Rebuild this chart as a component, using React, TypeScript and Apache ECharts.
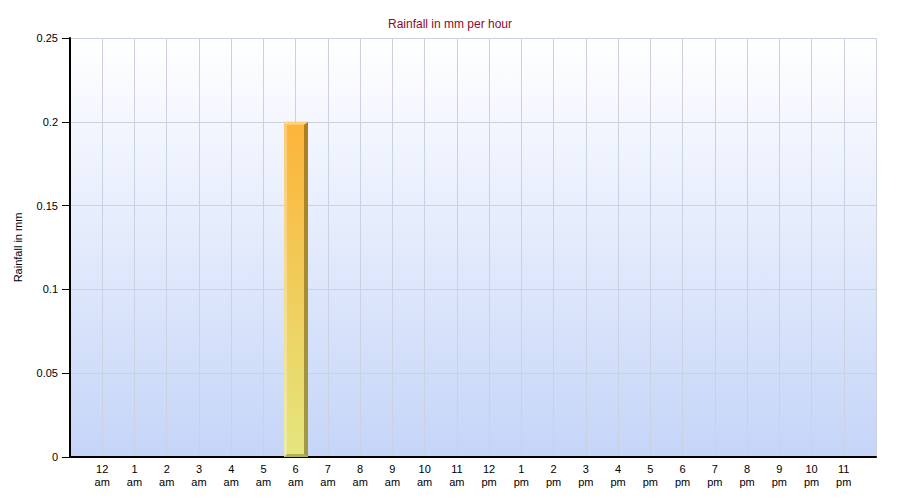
import React, { useEffect, useRef } from "react";
import * as echarts from "echarts";

const title = "Rainfall in mm per hour";
const yAxisName = "Rainfall in mm";
const hourLabels = [
  "12\nam", "1\nam", "2\nam", "3\nam", "4\nam", "5\nam", "6\nam", "7\nam",
  "8\nam", "9\nam", "10\nam", "11\nam", "12\npm", "1\npm", "2\npm", "3\npm",
  "4\npm", "5\npm", "6\npm", "7\npm", "8\npm", "9\npm", "10\npm", "11\npm",
];
const rainfall = [0, 0, 0, 0, 0, 0, 0.2, 0, 0, 0, 0, 0, 0, 0, 0, 0, 0, 0, 0, 0, 0, 0, 0, 0];
const yTicks = { min: 0, max: 0.25, interval: 0.05 };

const FONT = "Liberation Sans, Arial, sans-serif";

export default function App() {
  const ref = useRef<HTMLDivElement>(null);
  useEffect(() => {
    if (!ref.current) return;
    const chart = echarts.init(ref.current, null, { renderer: "svg" });
    const data = rainfall
      .map((v, i) => [i + 1, v])
      .filter((d) => d[1] > 0);
    chart.setOption({
      animation: false,
      backgroundColor: "#ffffff",
      textStyle: { fontFamily: FONT },
      title: {
        text: title,
        left: "center",
        top: 13,
        textStyle: { color: "#8b0a2a", fontSize: 12, fontWeight: "normal", fontFamily: FONT },
      },
      grid: {
        left: 70,
        right: 24,
        top: 38,
        bottom: 43,
        show: true,
        borderWidth: 0,
        backgroundColor: new echarts.graphic.LinearGradient(0, 0, 0, 1, [
          { offset: 0, color: "#ffffff" },
          { offset: 1, color: "#c5d5f8" },
        ]),
      },
      xAxis: {
        type: "value",
        min: 0,
        max: hourLabels.length + 1,
        interval: 1,
        axisLine: { show: true, lineStyle: { color: "#000000", width: 2 } },
        axisTick: { show: false },
        splitLine: { show: true, lineStyle: { color: "#cbd1e0", width: 1 } },
        axisLabel: {
          color: "#000000",
          fontSize: 11,
          lineHeight: 13,
          margin: 5,
          fontFamily: FONT,
          formatter: (v: number) => {
            const i = Math.round(v) - 1;
            return i >= 0 && i < hourLabels.length ? hourLabels[i] : "";
          },
        },
      },
      yAxis: {
        type: "value",
        min: yTicks.min,
        max: yTicks.max,
        interval: yTicks.interval,
        name: yAxisName,
        nameLocation: "middle",
        nameGap: 47,
        nameTextStyle: { color: "#000000", fontSize: 11, fontFamily: FONT },
        axisLine: { show: true, lineStyle: { color: "#000000", width: 2 } },
        axisTick: { show: true, length: 8, lineStyle: { color: "#000000", width: 1 } },
        splitLine: { show: true, lineStyle: { color: "#cbd1e0", width: 1 } },
        axisLabel: { color: "#000000", fontSize: 11, margin: 12, fontFamily: FONT },
      },
      series: [
        {
          type: "custom",
          data,
          encode: { x: 0, y: 1 },
          renderItem: (params: any, api: any) => {
            const x = api.value(0);
            const y = api.value(1);
            const top = api.coord([x, y]);
            const base = api.coord([x, 0]);
            const w = 24;
            const left = Math.round(top[0]) - 12;
            const right = left + w;
            const t = top[1];
            const b = base[1];
            return {
              type: "group",
              children: [
                {
                  type: "rect",
                  shape: { x: left, y: t, width: w, height: b - t },
                  style: {
                    fill: new echarts.graphic.LinearGradient(0, 0, 0, 1, [
                      { offset: 0, color: "#fdb43a" },
                      { offset: 1, color: "#e4e67e" },
                    ]),
                  },
                },
                {
                  type: "rect",
                  shape: { x: left, y: t, width: 3, height: b - t },
                  style: { fill: "rgba(255,255,255,0.3)" },
                },
                {
                  type: "polygon",
                  shape: {
                    points: [
                      [right - 4, t + 3],
                      [right, t],
                      [right, b],
                      [right - 4, b - 3],
                    ],
                  },
                  style: { fill: "rgba(80,60,0,0.45)" },
                },
                {
                  type: "polygon",
                  shape: {
                    points: [
                      [left, t],
                      [right, t],
                      [right - 4, t + 3],
                      [left + 3, t + 3],
                    ],
                  },
                  style: { fill: "rgba(255,235,180,0.55)" },
                },
                {
                  type: "polygon",
                  shape: {
                    points: [
                      [left + 3, b - 3],
                      [right - 4, b - 3],
                      [right, b],
                      [left, b],
                    ],
                  },
                  style: { fill: "rgba(80,80,0,0.35)" },
                },
              ],
            };
          },
        },
      ],
    });
    return () => chart.dispose();
  }, []);
  return <div ref={ref} style={{ width: 900, height: 500, marginLeft: -8, marginTop: -8 }} />;
}
